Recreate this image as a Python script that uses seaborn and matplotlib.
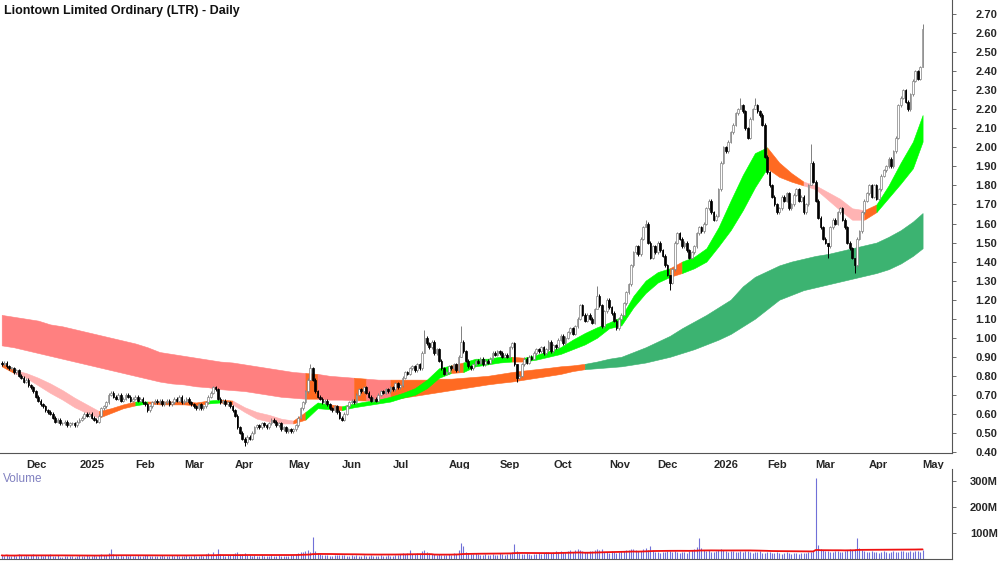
import numpy as np
import pandas as pd
import matplotlib
matplotlib.use("Agg")
import matplotlib.pyplot as plt
import seaborn as sns

TITLE = "Liontown Limited Ordinary (LTR) - Daily"
START = "2024-11-18"
FIRST_OPEN = 0.87

# daily closes, one per weekday from START
closes = [
    0.86, 0.87, 0.85, 0.84, 0.84, 0.82, 0.83, 0.80, 0.79, 0.77,
    0.78, 0.75, 0.74, 0.72, 0.69, 0.67, 0.65, 0.64, 0.62, 0.61,
    0.60, 0.58, 0.56, 0.57, 0.55, 0.55, 0.56, 0.54, 0.55, 0.55,
    0.54, 0.56, 0.57, 0.58, 0.60, 0.59, 0.60, 0.58, 0.57, 0.56,
    0.59, 0.63, 0.64, 0.66, 0.70, 0.71, 0.69, 0.68, 0.70, 0.67,
    0.68, 0.70, 0.69, 0.67, 0.68, 0.69, 0.67, 0.68, 0.66, 0.65,
    0.62, 0.64, 0.66, 0.67, 0.66, 0.67, 0.65, 0.66, 0.67, 0.65,
    0.66, 0.68, 0.67, 0.69, 0.66, 0.67, 0.68, 0.66, 0.65, 0.64,
    0.63, 0.65, 0.63, 0.64, 0.66, 0.69, 0.71, 0.74, 0.73, 0.68,
    0.66, 0.67, 0.65, 0.66, 0.64, 0.62, 0.59, 0.53, 0.50, 0.47,
    0.45, 0.48, 0.47, 0.50, 0.53, 0.54, 0.53, 0.55, 0.54, 0.53,
    0.55, 0.57, 0.56, 0.54, 0.55, 0.52, 0.53, 0.51, 0.52, 0.51,
    0.52, 0.54, 0.58, 0.63, 0.66, 0.72, 0.78, 0.84, 0.78, 0.72,
    0.69, 0.68, 0.66, 0.67, 0.65, 0.63, 0.62, 0.64, 0.61, 0.58,
    0.57, 0.60, 0.64, 0.66, 0.67, 0.66, 0.70, 0.73, 0.72, 0.74,
    0.71, 0.69, 0.67, 0.68, 0.67, 0.70, 0.72, 0.71, 0.73, 0.72,
    0.74, 0.73, 0.76, 0.74, 0.75, 0.79, 0.82, 0.81, 0.84, 0.85,
    0.83, 0.86, 0.84, 0.92, 1.00, 0.97, 0.95, 0.98, 0.92, 0.94,
    0.88, 0.84, 0.81, 0.82, 0.85, 0.84, 0.86, 0.83, 0.90, 0.98,
    0.93, 0.88, 0.85, 0.84, 0.86, 0.88, 0.87, 0.89, 0.86, 0.88,
    0.87, 0.89, 0.92, 0.91, 0.93, 0.92, 0.90, 0.91, 0.90, 0.95,
    0.97, 0.86, 0.79, 0.80, 0.86, 0.89, 0.87, 0.90, 0.89, 0.92,
    0.94, 0.93, 0.95, 0.92, 0.94, 0.98, 0.93, 0.96, 0.95, 0.99,
    1.01, 0.97, 1.00, 1.03, 1.05, 1.02, 1.06, 1.10, 1.17, 1.12,
    1.09, 1.12, 1.10, 1.08, 1.15, 1.22, 1.17, 1.06, 1.14, 1.20,
    1.16, 1.13, 1.09, 1.05, 1.10, 1.12, 1.18, 1.24, 1.28, 1.38,
    1.45, 1.48, 1.44, 1.52, 1.58, 1.60, 1.50, 1.42, 1.48, 1.45,
    1.50, 1.46, 1.43, 1.38, 1.33, 1.29, 1.36, 1.50, 1.55, 1.52,
    1.48, 1.50, 1.46, 1.42, 1.45, 1.48, 1.55, 1.58, 1.56, 1.60,
    1.68, 1.72, 1.66, 1.62, 1.64, 1.78, 1.92, 2.00, 1.98, 2.03,
    2.08, 2.12, 2.18, 2.20, 2.22, 2.19, 2.10, 2.05, 2.15, 2.20,
    2.22, 2.19, 2.17, 2.12, 1.95, 1.87, 1.80, 1.74, 1.70, 1.66,
    1.68, 1.74, 1.72, 1.76, 1.68, 1.70, 1.75, 1.78, 1.72, 1.74,
    1.66, 1.70, 1.80, 1.92, 1.82, 1.72, 1.63, 1.58, 1.52, 1.50,
    1.48, 1.58, 1.62, 1.60, 1.66, 1.68, 1.62, 1.58, 1.50, 1.47,
    1.42, 1.38, 1.52, 1.56, 1.66, 1.72, 1.76, 1.80, 1.74, 1.80,
    1.73, 1.78, 1.85, 1.88, 1.90, 1.94, 1.90, 1.98, 2.05, 2.22,
    2.26, 2.30, 2.24, 2.20, 2.28, 2.35, 2.40, 2.36, 2.42, 2.62,
]

# bars whose wicks reach well past the body: index -> (high, low)
wick_extremes = {
    100: (0.48, 0.43), 127: (0.86, 0.78), 174: (1.04, 0.92), 189: (1.06, 0.90),
    212: (0.86, 0.77), 245: (1.27, 1.15), 265: (1.62, 1.58), 275: (1.33, 1.25),
    304: (2.26, 2.20), 310: (2.26, 2.20), 333: (2.02, 1.80), 340: (1.50, 1.42),
    351: (1.42, 1.34), 379: (2.65, 2.42),
}

# moving-average ribbons, read every 5 bars
rib_idx = list(range(0, 376, 5)) + [379]
short_hi = [0.87, 0.83, 0.815, 0.79, 0.76, 0.725, 0.685, 0.65, 0.615, 0.63,
            0.65, 0.665, 0.665, 0.665, 0.665, 0.665, 0.66, 0.67, 0.675, 0.67,
            0.635, 0.61, 0.595, 0.575, 0.565, 0.61, 0.66, 0.65, 0.64, 0.655,
            0.665, 0.675, 0.69, 0.71, 0.735, 0.78, 0.84, 0.855, 0.87, 0.89,
            0.89, 0.90, 0.90, 0.895, 0.91, 0.93, 0.95, 0.99, 1.025, 1.055,
            1.08, 1.11, 1.22, 1.30, 1.345, 1.365, 1.40, 1.425, 1.47, 1.58,
            1.72, 1.855, 1.97, 2.00, 1.92, 1.865, 1.82, 1.80, 1.765, 1.73,
            1.68, 1.67, 1.70, 1.80, 1.92, 2.03, 2.17]
short_lo = [0.85, 0.815, 0.79, 0.75, 0.71, 0.675, 0.635, 0.605, 0.58, 0.605,
            0.63, 0.645, 0.655, 0.65, 0.65, 0.65, 0.645, 0.655, 0.66, 0.65,
            0.61, 0.575, 0.56, 0.55, 0.55, 0.57, 0.63, 0.625, 0.62, 0.635,
            0.645, 0.655, 0.665, 0.685, 0.70, 0.735, 0.79, 0.815, 0.82, 0.85,
            0.86, 0.87, 0.875, 0.875, 0.885, 0.90, 0.915, 0.94, 0.965, 1.00,
            1.05, 1.065, 1.16, 1.235, 1.29, 1.32, 1.34, 1.365, 1.40, 1.48,
            1.565, 1.67, 1.79, 1.89, 1.845, 1.82, 1.80, 1.78, 1.725, 1.67,
            1.62, 1.62, 1.66, 1.735, 1.81, 1.89, 2.03]
short_col = ("o" "ppppppp" "ooo" "g" "ooooo" "g" "o" "ppppp" "o" "gg" "o"
             "gggggggg" "g" "o" "gggg" "o" "gggggggggggg" "o" "ggggggg"
             "ooo" "ppppp" "o" "gggg")
long_hi = [1.12, 1.11, 1.10, 1.09, 1.07, 1.06, 1.045, 1.03, 1.015, 1.00,
           0.985, 0.97, 0.95, 0.925, 0.915, 0.905, 0.895, 0.885, 0.875, 0.87,
           0.86, 0.85, 0.84, 0.83, 0.82, 0.815, 0.81, 0.80, 0.795, 0.79,
           0.785, 0.78, 0.78, 0.78, 0.78, 0.78, 0.785, 0.785, 0.79, 0.795,
           0.80, 0.81, 0.82, 0.828, 0.835, 0.842, 0.85, 0.855, 0.863, 0.875,
           0.89, 0.90, 0.925, 0.95, 0.98, 1.01, 1.05, 1.085, 1.12, 1.16,
           1.20, 1.27, 1.32, 1.35, 1.38, 1.40, 1.415, 1.43, 1.44, 1.455,
           1.47, 1.485, 1.50, 1.53, 1.565, 1.61, 1.655]
long_lo = [0.96, 0.95, 0.935, 0.92, 0.905, 0.89, 0.875, 0.86, 0.845, 0.83,
           0.815, 0.80, 0.785, 0.77, 0.76, 0.755, 0.745, 0.74, 0.73, 0.725,
           0.72, 0.71, 0.70, 0.69, 0.685, 0.68, 0.68, 0.675, 0.675, 0.672,
           0.67, 0.67, 0.675, 0.685, 0.695, 0.705, 0.715, 0.725, 0.735, 0.745,
           0.755, 0.763, 0.77, 0.78, 0.79, 0.80, 0.81, 0.825, 0.835, 0.84,
           0.845, 0.85, 0.86, 0.87, 0.885, 0.90, 0.92, 0.94, 0.965, 0.99,
           1.02, 1.06, 1.10, 1.15, 1.20, 1.225, 1.25, 1.265, 1.28, 1.295,
           1.31, 1.325, 1.34, 1.36, 1.39, 1.43, 1.47]
long_col = ("rrrrrrrrrrrrrrrrrrrrrrrrr" "o" "rrr" "o" "rr" "oooooooooooooooo"
            "dddddddddddddddddddddddddddd")

# daily volume, millions of shares
volume = [
    14, 12, 16, 11, 13, 15, 12, 18, 14, 13,
    16, 12, 14, 19, 15, 13, 17, 12, 15, 14,
    18, 13, 11, 14, 9, 8, 12, 10, 11, 13,
    9, 12, 14, 11, 13, 16, 12, 10, 14, 13,
    15, 20, 14, 17, 22, 38, 18, 14, 12, 16,
    13, 15, 12, 14, 11, 13, 16, 12, 10, 14,
    17, 12, 11, 13, 10, 12, 15, 11, 13, 12,
    14, 11, 16, 12, 10, 13, 15, 12, 11, 14,
    13, 12, 15, 11, 18, 22, 16, 25, 14, 40,
    18, 15, 13, 16, 14, 19, 22, 26, 20, 18,
    24, 17, 14, 12, 15, 13, 11, 14, 12, 10,
    13, 15, 12, 11, 14, 12, 10, 13, 11, 16,
    14, 18, 22, 28, 25, 30, 34, 28, 85, 30,
    22, 18, 15, 14, 16, 13, 12, 15, 14, 17,
    16, 14, 12, 13, 15, 11, 14, 12, 13, 15,
    12, 11, 14, 13, 10, 12, 15, 13, 11, 14,
    13, 12, 16, 14, 18, 22, 20, 24, 36, 21,
    19, 23, 18, 30, 34, 26, 22, 20, 18, 17,
    21, 16, 15, 14, 19, 17, 22, 20, 35, 62,
    48, 28, 24, 20, 18, 22, 19, 16, 15, 18,
    17, 15, 19, 16, 14, 22, 18, 16, 20, 24,
    28, 56, 30, 24, 20, 18, 22, 19, 17, 20,
    18, 22, 20, 24, 26, 28, 22, 25, 30, 27,
    32, 28, 25, 30, 35, 26, 33, 38, 36, 30,
    28, 26, 30, 32, 35, 40, 34, 38, 28, 26,
    24, 30, 26, 22, 28, 32, 30, 36, 34, 38,
    40, 36, 32, 30, 38, 42, 36, 50, 34, 28,
    26, 24, 28, 25, 30, 32, 26, 30, 28, 24,
    26, 28, 24, 30, 36, 40, 45, 80, 42, 34,
    30, 34, 28, 26, 30, 36, 40, 34, 30, 28,
    32, 30, 28, 26, 30, 28, 32, 30, 26, 24,
    28, 26, 30, 24, 22, 26, 28, 24, 22, 25,
    22, 20, 24, 26, 22, 20, 24, 22, 20, 23,
    22, 24, 26, 28, 30, 312, 52, 40, 35, 32,
    30, 28, 26, 30, 32, 28, 26, 30, 34, 38,
    36, 40, 79, 42, 34, 30, 28, 26, 30, 28,
    26, 24, 28, 30, 26, 24, 28, 30, 26, 28,
    32, 30, 28, 26, 30, 28, 32, 30, 28, 34,
]

RIBBON_COLORS = {"g": "#00ff00", "o": "#ff6a22", "p": "#ffb3b3",
                 "r": "#ff8080", "d": "#3cb371"}

sns.set_theme(style="white")
plt.rcParams["font.family"] = ["Liberation Sans", "DejaVu Sans"]

df = pd.DataFrame({"date": pd.bdate_range(START, periods=len(closes)),
                   "close": closes, "volume": volume})
df["idx"] = np.arange(len(df))
df["open"] = df["close"].shift(1).fillna(FIRST_OPEN)
df["high"] = df[["open", "close"]].max(axis=1) + 0.008
df["low"] = df[["open", "close"]].min(axis=1) - 0.008
for k, (h, l) in wick_extremes.items():
    df.loc[k, "high"] = h
    df.loc[k, "low"] = l
df["vol_ma"] = df["volume"].rolling(50, min_periods=1).mean()

fig = plt.figure(figsize=(10, 5.62), dpi=100)
ax = fig.add_axes([0, 109 / 562, 0.952, 453 / 562])
vax = fig.add_axes([0, 3 / 562, 0.952, 90 / 562])


def draw_ribbon(axis, hi, lo, cols):
    # group consecutive intervals of one colour into one polygon
    start = 0
    for k in range(1, len(cols) + 1):
        if k == len(cols) or cols[k] != cols[start]:
            xs = rib_idx[start:k + 1]
            axis.fill_between(xs, lo[start:k + 1], hi[start:k + 1],
                              color=RIBBON_COLORS[cols[start]], lw=0.4,
                              zorder=2)
            start = k


draw_ribbon(ax, long_hi, long_lo, long_col)
draw_ribbon(ax, short_hi, short_lo, short_col)

up = df["close"] >= df["open"]
dn = ~up
ax.vlines(df.loc[up, "idx"], df.loc[up, "low"], df.loc[up, "high"],
          color="#808080", lw=0.7, zorder=3)
ax.vlines(df.loc[dn, "idx"], df.loc[dn, "low"], df.loc[dn, "high"],
          color="black", lw=0.7, zorder=3)
body = (df["close"] - df["open"]).abs().clip(lower=0.004)
bottom = df[["open", "close"]].min(axis=1)
ax.bar(df.loc[up, "idx"], body[up], bottom=bottom[up], width=0.7,
       color="white", edgecolor="#808080", linewidth=0.5, zorder=4)
ax.bar(df.loc[dn, "idx"], body[dn], bottom=bottom[dn], width=0.7,
       color="black", edgecolor="black", linewidth=0.5, zorder=4)

xlim = (-0.7, 391.1)
ax.set_xlim(*xlim)
ax.set_ylim(0.3947, 2.774)
ax.yaxis.tick_right()
yt = np.round(np.arange(0.4, 2.701, 0.1), 2)
ax.set_yticks(yt)
ax.set_yticklabels([f"{v:.2f}" for v in yt])

# month ticks at first trading day of each month
first = df.groupby(df["date"].dt.to_period("M"))["idx"].min()
first = first[first > 0]
labels = [str(p.year) if p.month == 1 else p.strftime("%b") for p in first.index]
ax.set_xticks(first.values)
ax.set_xticklabels(labels, ha="left")

for a in (ax, vax):
    for s in ("top", "left"):
        a.spines[s].set_visible(False)
    a.spines["right"].set_color("#555555")
    a.spines["bottom"].set_color("#555555")
    a.spines["right"].set_linewidth(0.8)
    a.spines["bottom"].set_linewidth(0.8)
    a.tick_params(axis="both", which="major", direction="out", length=3,
                  width=0.6, color="#555555", labelsize=8, pad=2)
    for t in a.get_yticklabels() + a.get_xticklabels():
        t.set_fontweight("bold")
ax.tick_params(axis="y", pad=14)

ax.text(0.004, 0.988, TITLE, transform=ax.transAxes, ha="left", va="top",
        fontsize=9, fontweight="bold", color="#111111")

# volume panel
vax.vlines(df["idx"], 0, df["volume"], color="#7070d8", lw=0.8)
sns.lineplot(data=df, x="idx", y="vol_ma", ax=vax, color="#ee1111", lw=1.3)
vax.set_xlim(*xlim)
vax.set_ylim(0, 345)
vax.yaxis.tick_right()
vax.set_yticks([100, 200, 300])
vax.set_yticklabels(["100M", "200M", "300M"])
for t in vax.get_yticklabels():
    t.set_fontweight("bold")
vax.tick_params(axis="y", pad=10)
vax.set_xticks([])
vax.set_xlabel("")
vax.set_ylabel("")
vax.text(0.003, 0.95, "Volume", transform=vax.transAxes, ha="left", va="top",
         fontsize=8.5, color="#8080c0")

fig.savefig("out.png", dpi=100)
